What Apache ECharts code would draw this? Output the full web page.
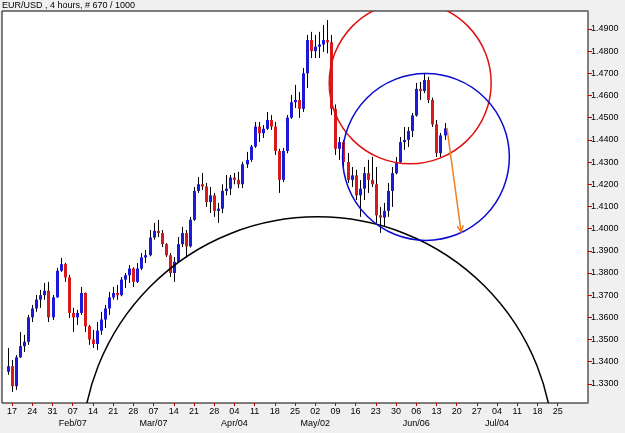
<!DOCTYPE html>
<html>
<head>
<meta charset="utf-8">
<title>EUR/USD 4 hours</title>
<script src="https://cdn.jsdelivr.net/npm/echarts@6/dist/echarts.min.js"></script>
<style>
  html, body { margin: 0; padding: 0; background: #f0f0f0; }
  #chart { width: 625px; height: 433px; }
</style>
</head>
<body>
<div id="chart"></div>
<script>
// axis covers weekdays from this date on, bars start at category 1
var firstDay = '2011-01-13';
var dayCount = 145;
var firstBar = 1;
var lastLabelDay = '2011-07-25';

// daily OHLC (Jan 14 .. Jun 15)
var openPx = [1.3355,1.3380,1.3290,1.3420,1.3470,1.3490,1.3600,1.3640,1.3680,1.3700,
  1.3720,1.3600,1.3690,1.3810,1.3840,1.3780,1.3620,1.3600,1.3620,1.3710,
  1.3560,1.3500,1.3480,1.3540,1.3590,1.3640,1.3690,1.3710,1.3700,1.3770,
  1.3790,1.3820,1.3760,1.3820,1.3870,1.3880,1.3960,1.3990,1.3980,1.3930,
  1.3880,1.3800,1.3850,1.3930,1.3980,1.3920,1.4040,1.4170,1.4200,1.4190,
  1.4120,1.4150,1.4080,1.4090,1.4170,1.4180,1.4230,1.4220,1.4200,1.4290,
  1.4310,1.4370,1.4460,1.4430,1.4450,1.4490,1.4460,1.4350,1.4220,1.4350,
  1.4500,1.4570,1.4580,1.4540,1.4700,1.4850,1.4800,1.4820,1.4830,1.4850,
  1.4840,1.4540,1.4360,1.4390,1.4300,1.4220,1.4240,1.4150,1.4180,1.4250,
  1.4220,1.4200,1.4060,1.4050,1.4080,1.4170,1.4250,1.4300,1.4390,1.4400,
  1.4440,1.4510,1.4630,1.4620,1.4670,1.4580,1.4470,1.4340,1.4420];
var highPx = [1.3462,1.3408,1.3430,1.3534,1.3521,1.3611,1.3656,1.3701,1.3724,1.3755,
  1.3760,1.3701,1.3823,1.3868,1.3846,1.3791,1.3643,1.3634,1.3737,1.3712,
  1.3566,1.3543,1.3579,1.3625,1.3656,1.3715,1.3737,1.3746,1.3782,1.3800,
  1.3836,1.3825,1.3845,1.3890,1.3904,1.3994,1.4026,1.4039,1.3994,1.3935,
  1.3890,1.3872,1.3962,1.4008,1.3994,1.4053,1.4188,1.4233,1.4251,1.4206,
  1.4188,1.4161,1.4116,1.4200,1.4242,1.4242,1.4251,1.4256,1.4301,1.4346,
  1.4377,1.4481,1.4481,1.4467,1.4526,1.4512,1.4481,1.4360,1.4364,1.4512,
  1.4603,1.4648,1.4616,1.4724,1.4873,1.4887,1.4873,1.4887,1.4918,1.4940,
  1.4873,1.4560,1.4413,1.4400,1.4341,1.4278,1.4265,1.4219,1.4278,1.4310,
  1.4323,1.4278,1.4098,1.4116,1.4206,1.4278,1.4323,1.4413,1.4458,1.4458,
  1.4521,1.4657,1.4661,1.4702,1.4684,1.4590,1.4490,1.4431,1.4476];
var lowPx = [1.3341,1.3264,1.3273,1.3417,1.3444,1.3476,1.3579,1.3625,1.3643,1.3679,
  1.3579,1.3588,1.3688,1.3805,1.3760,1.3597,1.3534,1.3566,1.3611,1.3534,
  1.3476,1.3462,1.3453,1.3521,1.3552,1.3611,1.3680,1.3679,1.3695,1.3733,
  1.3755,1.3737,1.3755,1.3814,1.3845,1.3875,1.3950,1.3962,1.3917,1.3872,
  1.3782,1.3760,1.3845,1.3917,1.3868,1.3915,1.4035,1.4161,1.4174,1.4098,
  1.4071,1.4053,1.4026,1.4070,1.4150,1.4152,1.4200,1.4183,1.4183,1.4274,
  1.4301,1.4364,1.4391,1.4409,1.4445,1.4445,1.4332,1.4161,1.4210,1.4340,
  1.4495,1.4544,1.4499,1.4526,1.4634,1.4769,1.4769,1.4769,1.4796,1.4790,
  1.4512,1.4332,1.4310,1.4278,1.4206,1.4188,1.4129,1.4053,1.4129,1.4161,
  1.4188,1.4026,1.3981,1.4008,1.4053,1.4098,1.4245,1.4296,1.4355,1.4368,
  1.4413,1.4505,1.4580,1.4611,1.4566,1.4458,1.4323,1.4323,1.4400];
var closePx = [1.3380,1.3290,1.3420,1.3470,1.3490,1.3600,1.3640,1.3680,1.3700,1.3720,
  1.3600,1.3690,1.3810,1.3840,1.3780,1.3620,1.3600,1.3620,1.3710,1.3560,
  1.3500,1.3480,1.3540,1.3590,1.3640,1.3690,1.3710,1.3700,1.3770,1.3790,
  1.3820,1.3760,1.3820,1.3870,1.3880,1.3960,1.3990,1.3980,1.3930,1.3880,
  1.3800,1.3850,1.3930,1.3980,1.3920,1.4040,1.4170,1.4200,1.4190,1.4120,
  1.4150,1.4080,1.4090,1.4170,1.4180,1.4230,1.4220,1.4200,1.4290,1.4310,
  1.4370,1.4460,1.4430,1.4450,1.4490,1.4460,1.4350,1.4220,1.4350,1.4500,
  1.4570,1.4580,1.4540,1.4700,1.4850,1.4800,1.4820,1.4830,1.4850,1.4840,
  1.4540,1.4360,1.4390,1.4300,1.4220,1.4240,1.4150,1.4180,1.4250,1.4220,
  1.4200,1.4060,1.4050,1.4080,1.4170,1.4250,1.4300,1.4390,1.4400,1.4440,
  1.4510,1.4630,1.4620,1.4670,1.4580,1.4470,1.4340,1.4420,1.4452];

var priceTicks = [1.33,1.34,1.35,1.36,1.37,1.38,1.39,1.40,1.41,1.42,1.43,1.44,1.45,1.46,1.47,1.48,1.49];
var priceMin = 1.3214, priceMax = 1.4981;
var lastPrice = 1.4452;
var monthNames = ['Jan','Feb','Mar','Apr','May','Jun','Jul','Aug','Sep','Oct','Nov','Dec'];

// hand drawn circles: centre [bar index, price], radius in price units
var circles = [
  { at: [77.6, 1.2989], r: 0.1064, color: '#000000' },
  { at: [100.5, 1.4657], r: 0.0365, color: '#e01010' },
  { at: [104.4, 1.4323], r: 0.0376, color: '#0a0ad0' }
];
// arrow from last price down to target
var arrowFrom = [109.6, 1.4454], arrowTo = [113.1, 1.3985];

var days = [];
var d = new Date(firstDay + 'T00:00:00Z');
while (days.length < dayCount) {
  var wd = d.getUTCDay();
  if (wd !== 0 && wd !== 6) days.push(d.toISOString().slice(0, 10));
  d.setUTCDate(d.getUTCDate() + 1);
}

var bars = [];
for (var i = 0; i < openPx.length; i++) {
  bars.push([firstBar + i, openPx[i], closePx[i], lowPx[i], highPx[i]]);
}

// weekly marks on Mondays, none after the last labelled week
function isMonday(idx, value) {
  return value <= lastLabelDay && new Date(value + 'T00:00:00Z').getUTCDay() === 1;
}

// pixel x for a fractional bar index
function xAt(api, idx, price) {
  var k = Math.floor(idx);
  var a = api.coord([k, price]), b = api.coord([k + 1, price]);
  return a[0] + (idx - k) * (b[0] - a[0]);
}

var chart = echarts.init(document.getElementById('chart'));
var font = 'Liberation Sans';

chart.setOption({
  animation: false,
  backgroundColor: '#f0f0f0',
  textStyle: { fontFamily: font },
  title: {
    text: 'EUR/USD , 4 hours, # 670 / 1000',
    left: 2, top: 1, padding: 0,
    textStyle: { fontSize: 9, fontWeight: 'normal', color: '#000', fontFamily: font }
  },
  grid: {
    left: 2, right: 37, top: 11, bottom: 30,
    show: true, backgroundColor: '#ffffff', borderColor: '#000', borderWidth: 1
  },
  xAxis: {
    type: 'category',
    data: days,
    axisLine: { show: false },
    axisTick: { show: true, interval: isMonday, alignWithLabel: true, length: 3, lineStyle: { color: '#c00000' } },
    axisLabel: {
      interval: isMonday,
      fontSize: 9, color: '#000', margin: 3, lineHeight: 12,
      formatter: function (value) {
        var dt = new Date(value + 'T00:00:00Z');
        var dd = ('0' + dt.getUTCDate()).slice(-2);
        if (dt.getUTCDate() <= 7) return dd + '\n' + monthNames[dt.getUTCMonth()] + '/' + dd;
        return dd;
      }
    },
    splitLine: { show: false }
  },
  yAxis: {
    type: 'value',
    position: 'right',
    min: priceMin, max: priceMax,
    axisLine: { show: true, lineStyle: { color: '#808080', width: 2 } },
    axisTick: { show: true, length: 4, customValues: priceTicks, lineStyle: { color: '#c00000' } },
    axisLabel: {
      customValues: priceTicks, fontSize: 9, color: '#000', margin: 3,
      formatter: function (v) { return v.toFixed(4); }
    },
    splitLine: { show: false }
  },
  series: [
    {
      type: 'custom',
      name: 'EURUSD',
      data: bars,
      encode: { x: 0, y: [1, 2, 3, 4] },
      renderItem: function (params, api) {
        var k = api.value(0), o = api.value(1), c = api.value(2), l = api.value(3), h = api.value(4);
        var pO = api.coord([k, o]), pC = api.coord([k, c]);
        var pL = api.coord([k, l]), pH = api.coord([k, h]);
        var x = Math.round(pO[0]) + 0.5;
        var top = Math.min(pO[1], pC[1]);
        var bh = Math.max(Math.abs(pO[1] - pC[1]), 1);
        return {
          type: 'group',
          children: [
            { type: 'line', shape: { x1: x, y1: pH[1], x2: x, y2: pL[1] }, style: { stroke: '#000', lineWidth: 1 } },
            { type: 'rect', shape: { x: x - 1.5, y: top, width: 3, height: bh },
              style: { fill: c >= o ? '#1a1ad8' : '#d81a1a' } }
          ]
        };
      },
      markLine: {
        silent: true, symbol: 'none',
        lineStyle: { opacity: 0 },
        data: [{ yAxis: lastPrice }],
        label: {
          show: true, position: 'end', distance: 3,
          formatter: function () { return lastPrice.toFixed(4); },
          color: '#0000ff', fontSize: 9, fontFamily: font,
          backgroundColor: '#fff', borderColor: '#e00000', borderWidth: 1, padding: [1, 2, 0, 2]
        }
      },
      z: 2
    },
    {
      type: 'custom',
      name: 'circles',
      clip: true,
      silent: true,
      data: circles.map(function (c) { return [c.at[0], c.at[1], c.r]; }),
      encode: { x: 0, y: 1 },
      renderItem: function (params, api) {
        var idx = api.value(0), p = api.value(1), r = api.value(2);
        var cx = xAt(api, idx, p);
        var cy = api.coord([Math.floor(idx), p])[1];
        var rr = api.coord([Math.floor(idx), p - r])[1] - cy;
        return {
          type: 'circle',
          shape: { cx: cx, cy: cy, r: rr },
          style: { fill: 'none', stroke: circles[params.dataIndex].color, lineWidth: 1.5 }
        };
      },
      z: 3
    },
    {
      type: 'custom',
      name: 'arrow',
      clip: true,
      silent: true,
      data: [[arrowFrom[0], arrowFrom[1], arrowTo[0], arrowTo[1]]],
      encode: { x: [0, 2], y: [1, 3] },
      renderItem: function (params, api) {
        var x1 = xAt(api, api.value(0), api.value(1)), y1 = api.coord([Math.floor(api.value(0)), api.value(1)])[1];
        var x2 = xAt(api, api.value(2), api.value(3)), y2 = api.coord([Math.floor(api.value(2)), api.value(3)])[1];
        var ang = Math.atan2(y2 - y1, x2 - x1), len = 7, spread = 0.45;
        var st = { stroke: '#f08020', lineWidth: 1.5, fill: 'none' };
        return {
          type: 'group',
          children: [
            { type: 'line', shape: { x1: x1, y1: y1, x2: x2, y2: y2 }, style: st },
            { type: 'polyline', shape: { points: [
              [x2 - len * Math.cos(ang - spread), y2 - len * Math.sin(ang - spread)],
              [x2, y2],
              [x2 - len * Math.cos(ang + spread), y2 - len * Math.sin(ang + spread)]
            ] }, style: st }
          ]
        };
      },
      z: 4
    }
  ]
});
</script>
</body>
</html>
